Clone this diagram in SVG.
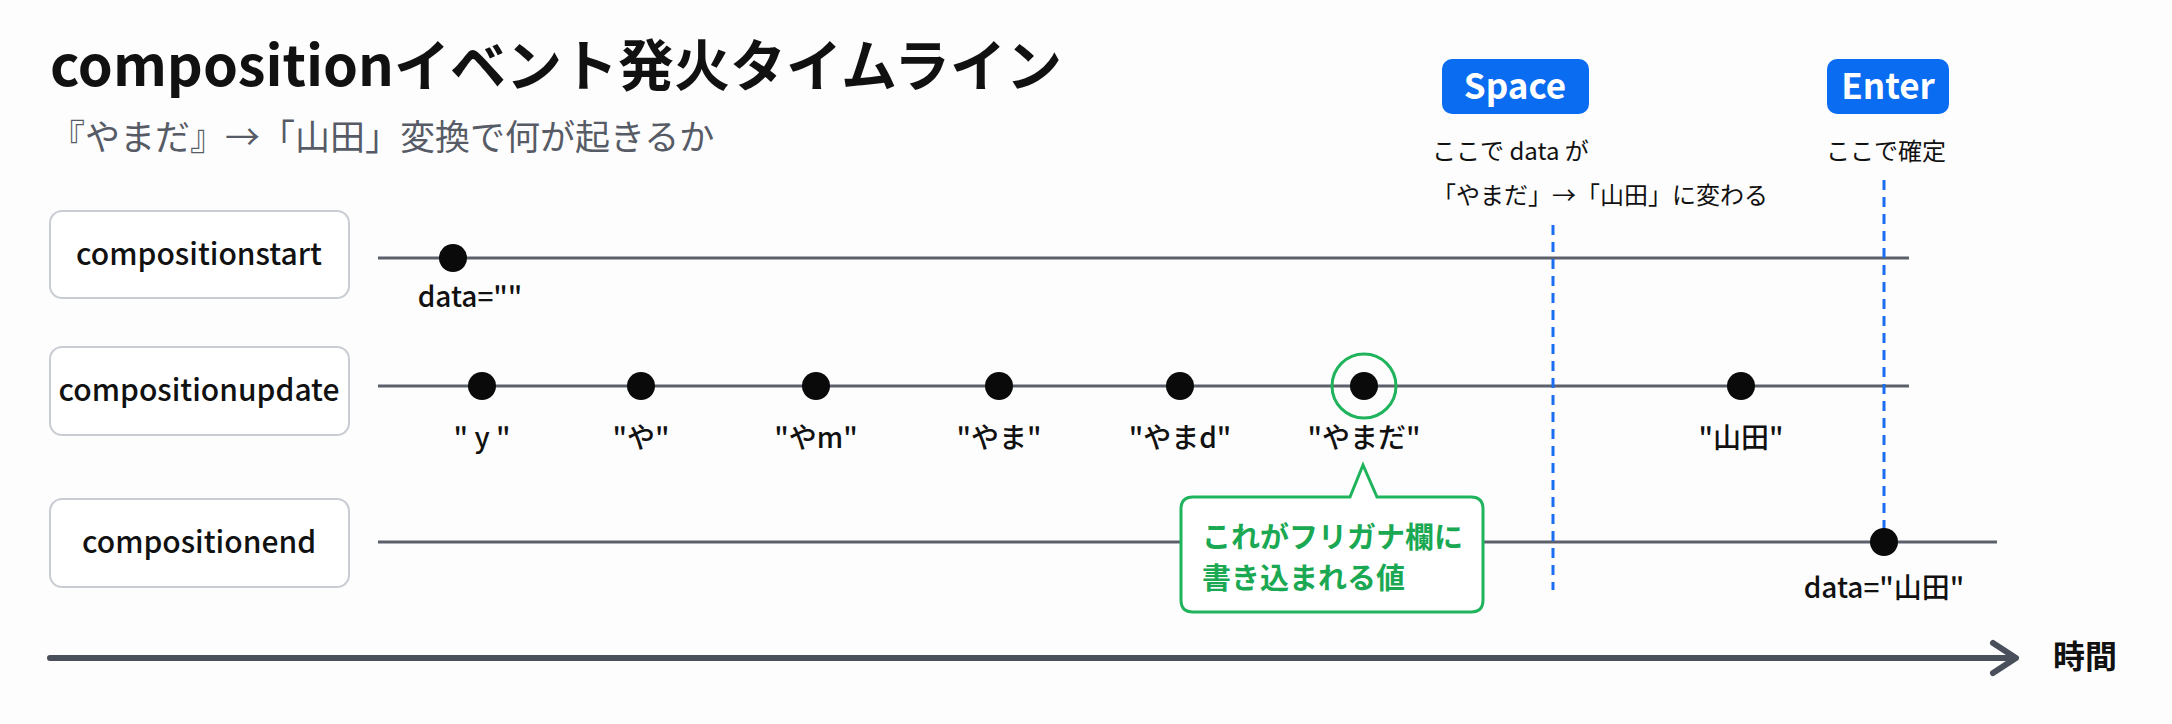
<svg xmlns="http://www.w3.org/2000/svg" width="2172" height="724" viewBox="0 0 2172 724">
<style>
text{font-family:"Noto Sans CJK JP","Noto Sans",sans-serif}
.title{font-size:56px;font-weight:700;fill:#111}
.sub{font-size:35px;fill:#565b66}
.box{fill:#fff;stroke:#c9cdd3;stroke-width:2}
.boxt{font-size:30px;font-weight:500;fill:#111;text-anchor:middle}
.tl{stroke:#5b606b;stroke-width:3}
.dot{fill:#0a0a0a}
.lbl{font-size:28px;font-weight:500;fill:#111;text-anchor:middle}
.dash{stroke:#1a6ff0;stroke-width:3;stroke-dasharray:10 7;fill:none}
.badge{fill:#0a6cf0}
.badget{font-size:35px;font-weight:700;fill:#fff;text-anchor:middle}
.note{font-size:24px;fill:#111}
.call{fill:#fff;stroke:#1fb35c;stroke-width:3}
.callt{font-size:29px;font-weight:700;fill:#1aa853}
.axis{stroke:#4a505b;stroke-width:6;fill:none;stroke-linecap:round;stroke-linejoin:round}
</style>
<rect width="2172" height="724" fill="#fdfdfd"/>
<text class="title" x="50" y="86">compositionイベント発火タイムライン</text>
<text class="sub" x="50" y="150">『やまだ』→「山田」変換で何が起きるか</text>

<g id="node-compositionstart">
<rect class="box" x="50" y="211" width="299" height="87" rx="12"/>
<text class="boxt" x="199" y="265">compositionstart</text>
</g>
<g id="node-compositionupdate">
<rect class="box" x="50" y="347" width="299" height="88" rx="12"/>
<text class="boxt" x="199" y="401">compositionupdate</text>
</g>
<g id="node-compositionend">
<rect class="box" x="50" y="499" width="299" height="88" rx="12"/>
<text class="boxt" x="199" y="553">compositionend</text>
</g>

<g id="connectors">
<line class="tl" x1="378" y1="258" x2="1909" y2="258"/>
<line class="tl" x1="378" y1="386" x2="1909" y2="386"/>
<line class="tl" x1="378" y1="542" x2="1997" y2="542"/>
<line class="dash" x1="1553" y1="225" x2="1553" y2="590"/>
<line class="dash" x1="1884" y1="180" x2="1884" y2="542"/>
<path class="axis" d="M50 658 H2014 M1993 643 L2016 658 L1993 673"/>
</g>

<g id="events">
<circle class="dot" cx="453" cy="258" r="14"/>
<text class="lbl" x="470" y="307">data=""</text>
<circle class="dot" cx="482" cy="386" r="14"/>
<text class="lbl" x="482" y="448">" y "</text>
<circle class="dot" cx="641" cy="386" r="14"/>
<text class="lbl" x="641" y="448">"や"</text>
<circle class="dot" cx="816" cy="386" r="14"/>
<text class="lbl" x="816" y="448">"やm"</text>
<circle class="dot" cx="999" cy="386" r="14"/>
<text class="lbl" x="999" y="448">"やま"</text>
<circle class="dot" cx="1180" cy="386" r="14"/>
<text class="lbl" x="1180" y="448">"やまd"</text>
<circle class="dot" cx="1364" cy="386" r="14"/>
<circle cx="1364" cy="386" r="32" fill="none" stroke="#1fb35c" stroke-width="3"/>
<text class="lbl" x="1364" y="448">"やまだ"</text>
<circle class="dot" cx="1741" cy="386" r="14"/>
<text class="lbl" x="1741" y="448">"山田"</text>
<circle class="dot" cx="1884" cy="542" r="14"/>
<text class="lbl" x="1884" y="598">data="山田"</text>
</g>

<g id="badge-space">
<rect class="badge" x="1442" y="59" width="147" height="55" rx="10"/>
<text class="badget" x="1515" y="99">Space</text>
</g>
<g id="badge-enter">
<rect class="badge" x="1827" y="59" width="122" height="55" rx="10"/>
<text class="badget" x="1888" y="99">Enter</text>
</g>
<g id="note-space">
<text class="note" x="1432" y="160">ここで data が</text>
<text class="note" x="1432" y="204">「やまだ」→「山田」に変わる</text>
</g>
<g id="note-enter">
<text class="note" x="1826" y="160">ここで確定</text>
</g>

<g id="callout">
<path class="call" d="M1193 497 H1350 L1363 465 L1377 497 H1471 Q1483 497 1483 509 V600 Q1483 612 1471 612 H1193 Q1181 612 1181 600 V509 Q1181 497 1193 497 Z"/>
<text class="callt" x="1202" y="548">これがフリガナ欄に</text>
<text class="callt" x="1202" y="589">書き込まれる値</text>
</g>

<text x="2053" y="668" font-size="32" font-weight="700" fill="#111" style="font-family:'Noto Sans CJK JP',sans-serif">時間</text>
</svg>
